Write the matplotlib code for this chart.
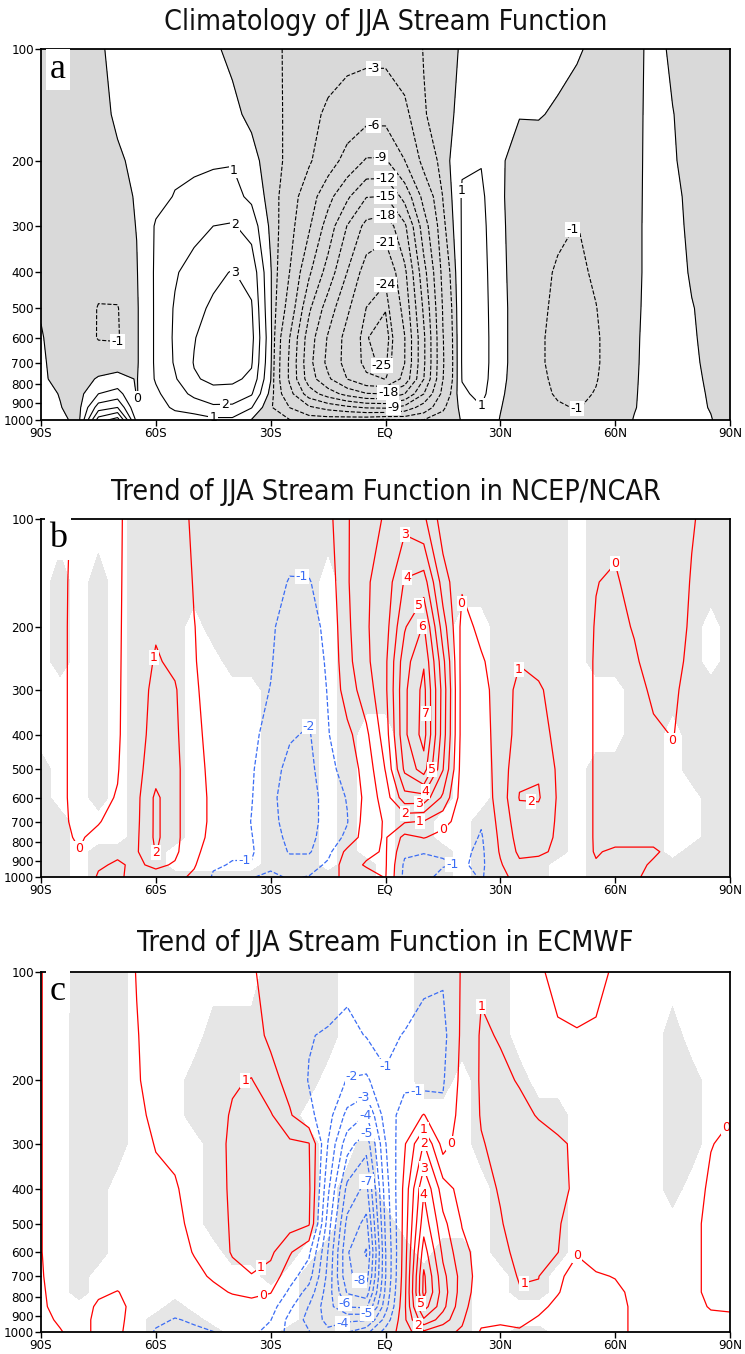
import numpy as np
import matplotlib.pyplot as plt
from matplotlib import font_manager
from matplotlib.ticker import NullLocator

lats = np.arange(-90, 91, 5)
plevs = [100, 150, 200, 250, 300, 400, 500, 600, 700, 775, 850, 925, 1000]

# JJA climatological mass stream function, one row per latitude (90S -> 90N),
# values at plevs (100 -> 1000 hPa)
psi_clim = [
    [-0.3, -0.3, -0.3, -0.3, -0.3, -0.25, -0.05, 0.05, 0.1, 0.12, 0.15, 0.2, 0.2],
    [-0.4, -0.4, -0.4, -0.4, -0.4, -0.4, -0.35, -0.3, -0.25, -0.2, -0.02, 0.02, 0.08],
    [-0.4, -0.4, -0.4, -0.4, -0.45, -0.5, -0.5, -0.55, -0.5, -0.4, -0.3, -0.2, -0.1],
    [-0.1, -0.2, -0.4, -0.45, -0.5, -0.7, -1.05, -1.05, -0.5, 0.1, 1.0, 2.5, 4.5],
    [0.2, 0.1, -0.1, -0.2, -0.3, -0.6, -1.05, -1.1, -0.4, 0.3, 1.4, 3.0, 5.5],
    [0.3, 0.2, 0.15, 0.05, 0.02, -0.05, -0.1, -0.1, -0.1, -0.05, -0.05, 0.1, 0.7],
    [0.45, 0.5, 0.55, 0.7, 1.1, 1.15, 1.15, 1.15, 1.15, 1.1, 0.8, 0.5, 0.3],
    [0.4, 0.55, 0.8, 1.05, 1.45, 1.9, 2.1, 2.15, 2.1, 1.9, 1.6, 1.2, 0.4],
    [0.35, 0.55, 0.85, 1.2, 1.7, 2.4, 2.75, 2.95, 3.05, 2.9, 2.2, 1.5, 0.5],
    [0.1, 0.55, 0.9, 1.35, 2.0, 2.8, 3.15, 3.5, 3.5, 3.2, 2.7, 1.8, 0.8],
    [-0.15, 0.2, 0.95, 1.3, 2.1, 3.05, 3.35, 3.5, 3.45, 3.2, 2.6, 1.8, 0.8],
    [-0.3, -0.2, 0.35, 0.8, 1.6, 2.7, 3.1, 3.3, 3.1, 2.8, 2.1, 1.05, -0.05],
    [-0.7, -0.5, -0.5, -0.4, -0.2, 0.1, 0.15, 0.3, 0.2, 0.05, -0.3, -0.8, -0.3],
    [-1.2, -1.3, -1.3, -1.8, -2.1, -3.05, -4.05, -6.05, -6.5, -6.5, -5.05, -3.05, -0.95],
    [-1.6, -2.3, -2.7, -4.5, -5.6, -8.5, -11.5, -13.5, -14.05, -13.5, -10.5, -5.5, -1.5],
    [-2.05, -3.4, -4.6, -8.05, -10.3, -13.3, -16.5, -18.3, -18.8, -17.5, -13.5, -7.05, -1.5],
    [-2.2, -4.4, -7.05, -11.5, -15.1, -18.05, -20.5, -22.05, -22.05, -21.05, -16.05, -8.3, -1.2],
    [-2.3, -5.05, -9.3, -14.9, -18.9, -22.5, -24.05, -24.9, -24.7, -23.5, -17.8, -9.3, -1.05],
    [-2.3, -5.05, -9.3, -15.05, -19.8, -23.6, -24.9, -25.8, -25.3, -24.05, -18.05, -9.5, -0.5],
    [-1.8, -3.6, -6.05, -11.05, -15.6, -18.7, -20.05, -21.1, -21.05, -20.05, -15.05, -8.05, -0.95],
    [-0.95, -1.1, -2.2, -5.05, -7.4, -10.05, -11.5, -12.5, -12.5, -12.05, -9.05, -4.5, -0.95],
    [-0.4, -0.4, -0.5, -0.95, -1.3, -2.2, -2.8, -3.1, -3.2, -3.05, -2.2, -1.2, -0.5],
    [0.1, 0.3, 0.9, 1.1, 1.1, 1.1, 1.1, 1.1, 1.1, 1.05, 0.8, 0.3, 0.05],
    [0.3, 0.6, 0.95, 1.2, 1.3, 1.4, 1.45, 1.5, 1.5, 1.45, 1.3, 0.95, 0.3],
    [0.2, 0.15, 0.1, 0.1, 0.15, 0.2, 0.25, 0.25, 0.25, 0.2, 0.1, 0.02, -0.02],
    [0.3, 0.03, -0.3, -0.35, -0.4, -0.4, -0.4, -0.4, -0.4, -0.4, -0.35, -0.25, -0.1],
    [0.25, 0.05, -0.4, -0.5, -0.6, -0.75, -0.85, -0.9, -0.9, -0.85, -0.75, -0.6, -0.2],
    [0.2, -0.1, -0.45, -0.6, -0.85, -1.1, -1.15, -1.2, -1.2, -1.15, -1.1, -0.9, -0.3],
    [0.05, -0.2, -0.5, -0.7, -1.02, -1.15, -1.25, -1.3, -1.3, -1.25, -1.2, -1.05, -0.3],
    [-0.1, -0.3, -0.45, -0.6, -0.75, -0.9, -1.02, -1.1, -1.1, -1.05, -0.95, -0.8, -0.3],
    [-0.2, -0.3, -0.4, -0.45, -0.5, -0.55, -0.6, -0.6, -0.6, -0.55, -0.5, -0.4, -0.2],
    [-0.1, -0.1, -0.1, -0.1, -0.1, -0.1, -0.08, -0.06, -0.05, -0.04, -0.03, -0.02, 0.02],
    [0.1, 0.12, 0.13, 0.14, 0.15, 0.15, 0.15, 0.15, 0.15, 0.15, 0.15, 0.15, 0.15],
    [-0.05, 0.01, 0.03, 0.05, 0.06, 0.08, 0.1, 0.1, 0.1, 0.1, 0.1, 0.1, 0.1],
    [-0.15, -0.12, -0.1, -0.05, -0.04, -0.02, 0.01, 0.02, 0.03, 0.04, 0.05, 0.05, 0.05],
    [-0.15, -0.15, -0.15, -0.12, -0.1, -0.08, -0.06, -0.05, -0.04, -0.03, -0.02, -0.01, 0.01],
    [-0.1, -0.1, -0.1, -0.1, -0.1, -0.1, -0.1, -0.1, -0.1, -0.1, -0.1, -0.1, -0.1],
]

# JJA stream function trend, NCEP/NCAR
trend_ncep = [
    [0.2, 0.2, 0.2, 0.2, 0.2, 0.2, 0.2, 0.2, 0.2, 0.2, 0.2, 0.2, 0.2],
    [0.1, 0.1, 0.12, 0.12, 0.12, 0.12, 0.12, 0.12, 0.12, 0.15, 0.2, 0.3, 0.4],
    [-0.1, -0.15, -0.2, -0.2, -0.2, -0.2, -0.2, -0.2, -0.15, -0.08, 0.02, 0.2, 0.3],
    [-0.2, -0.25, -0.3, -0.3, -0.3, -0.3, -0.25, -0.2, -0.05, 0.2, 0.5, 0.9, 1.1],
    [-0.1, -0.1, -0.1, -0.1, -0.1, -0.1, -0.05, 0.05, 0.3, 0.6, 0.85, 1.1, 1.2],
    [0.3, 0.35, 0.4, 0.45, 0.5, 0.6, 0.7, 0.75, 0.8, 0.85, 0.9, 0.85, 0.6],
    [0.6, 0.7, 0.9, 1.1, 1.3, 1.4, 1.6, 2.2, 2.2, 2.2, 2.05, 1.2, 0.6],
    [0.4, 0.5, 0.6, 0.8, 1.1, 1.2, 1.3, 1.3, 1.3, 1.3, 1.2, 0.9, 0.3],
    [-0.15, -0.05, 0.02, 0.05, 0.1, 0.15, 0.2, 0.2, 0.2, 0.2, 0.2, 0.1, -0.2],
    [-0.3, -0.3, -0.35, -0.35, -0.3, -0.2, -0.15, -0.1, -0.1, -0.15, -0.4, -0.9, -1.1],
    [-0.3, -0.35, -0.4, -0.4, -0.4, -0.35, -0.3, -0.3, -0.4, -0.6, -0.9, -1.05, -1.2],
    [-0.4, -0.5, -0.6, -0.7, -0.75, -0.8, -0.9, -0.95, -1.03, -0.97, -0.95, -1.03, -1.05],
    [-0.4, -0.7, -0.9, -0.95, -1.02, -1.3, -1.6, -1.8, -1.7, -1.5, -1.3, -1.2, -0.8],
    [-0.6, -1.05, -1.3, -1.4, -1.5, -1.9, -2.3, -2.4, -2.4, -2.3, -2.1, -1.5, -1.1],
    [-0.5, -1.05, -1.3, -1.4, -1.6, -2.1, -2.3, -2.5, -2.4, -2.3, -2.1, -1.5, -0.95],
    [-0.3, -0.6, -0.8, -0.9, -0.95, -1.05, -1.3, -1.5, -1.6, -1.5, -1.3, -0.8, -0.4],
    [0.9, 0.9, 0.8, 0.7, 0.5, -0.3, -0.6, -0.95, -1.05, -0.8, 0.3, 0.6, 0.3],
    [1.8, 1.9, 1.9, 1.8, 1.5, 0.8, 0.4, 0.3, 0.5, 0.6, 0.8, 1.1, 0.6],
    [2.05, 2.4, 2.6, 2.8, 2.8, 2.5, 2.05, 1.5, 1.1, 1.1, 1.1, 1.1, 1.05],
    [2.7, 4.1, 4.9, 5.6, 5.8, 5.8, 5.2, 3.6, 1.1, -0.3, -0.8, -1.2, -1.3],
    [2.2, 4.5, 6.1, 6.9, 7.3, 7.4, 6.5, 3.6, 0.95, 0.05, -0.9, -1.6, -1.4],
    [0.5, 1.5, 2.5, 3.3, 3.6, 3.5, 3.05, 1.8, 0.3, -0.3, -0.9, -1.1, -0.6],
    [0.4, 0.1, -0.3, -0.4, -0.4, -0.4, -0.5, -0.5, -0.4, -0.5, -0.8, -0.9, -0.6],
    [0.5, 0.4, 0.2, -0.1, -0.3, -0.4, -0.5, -0.6, -0.9, -1.1, -1.2, -1.2, -1.1],
    [0.5, 0.5, 0.5, 0.4, 0.4, 0.4, 0.4, 0.4, 0.3, 0.2, 0.1, -0.1, -0.3],
    [0.4, 0.5, 0.7, 0.95, 1.3, 1.4, 1.8, 2.05, 1.6, 1.4, 1.2, 0.8, 0.4],
    [0.4, 0.5, 0.6, 0.8, 1.1, 1.3, 1.9, 2.1, 1.5, 1.3, 1.1, 0.8, 0.4],
    [0.3, 0.4, 0.5, 0.6, 0.7, 0.8, 0.85, 0.9, 0.9, 0.9, 0.9, 0.7, 0.3],
    [0.2, 0.3, 0.4, 0.5, 0.5, 0.5, 0.5, 0.5, 0.5, 0.5, 0.3, 0.2, 0.1],
    [0.1, 0.02, -0.05, -0.1, -0.1, -0.1, -0.1, -0.1, -0.1, -0.1, -0.05, 0.05, 0.1],
    [0.2, -0.1, -0.2, -0.25, -0.3, -0.3, -0.3, -0.3, -0.3, -0.2, 0.1, 0.2, 0.1],
    [0.4, 0.3, 0.05, -0.1, -0.2, -0.3, -0.3, -0.3, -0.2, -0.1, 0.05, 0.1, 0.05],
    [0.5, 0.5, 0.4, 0.3, 0.1, -0.1, -0.2, -0.2, -0.2, -0.1, 0.05, -0.05, -0.1],
    [0.4, 0.4, 0.3, 0.2, 0.1, 0.02, -0.1, -0.2, -0.2, -0.15, -0.1, -0.1, -0.1],
    [0.05, -0.05, -0.1, -0.15, -0.2, -0.2, -0.2, -0.2, -0.2, -0.15, -0.1, -0.1, -0.1],
    [-0.2, -0.2, -0.2, -0.2, -0.2, -0.2, -0.2, -0.2, -0.2, -0.2, -0.2, -0.2, -0.2],
    [-0.2, -0.2, -0.2, -0.2, -0.2, -0.2, -0.2, -0.2, -0.2, -0.2, -0.2, -0.2, -0.2],
]

# JJA stream function trend, ECMWF
trend_ecmwf = [
    [0.02, 0.02, 0.02, 0.02, 0.02, 0.02, 0.02, 0.02, 0.05, 0.08, 0.1, 0.2, 0.3],
    [-0.3, -0.3, -0.3, -0.3, -0.3, -0.3, -0.3, -0.3, -0.3, -0.25, -0.2, -0.1, 0.05],
    [-0.4, -0.4, -0.4, -0.4, -0.4, -0.45, -0.45, -0.4, -0.35, -0.3, -0.3, -0.3, -0.3],
    [-0.4, -0.4, -0.4, -0.4, -0.4, -0.45, -0.5, -0.4, -0.3, -0.1, 0.1, 0.2, 0.2],
    [-0.3, -0.3, -0.3, -0.3, -0.3, -0.35, -0.35, -0.3, -0.2, 0.02, 0.2, 0.2, 0.15],
    [0.02, -0.03, -0.05, -0.1, -0.15, -0.2, -0.25, -0.25, -0.2, -0.2, -0.25, -0.35, -0.4],
    [0.3, 0.25, 0.2, 0.1, 0.02, -0.1, -0.15, -0.2, -0.2, -0.3, -0.5, -0.8, -1.1],
    [0.4, 0.4, 0.35, 0.25, 0.1, -0.05, -0.1, -0.15, -0.2, -0.35, -0.7, -1.05, -1.3],
    [0.5, 0.5, 0.5, 0.45, 0.4, 0.2, 0.1, 0.02, -0.1, -0.3, -0.6, -0.9, -1.15],
    [0.5, 0.6, 0.6, 0.6, 0.6, 0.5, 0.4, 0.3, 0.05, -0.1, -0.3, -0.6, -1.02],
    [0.5, 0.6, 0.9, 1.1, 1.2, 1.2, 1.15, 1.1, 0.6, 0.03, -0.2, -0.5, -0.7],
    [0.1, 0.3, 1.05, 1.4, 1.6, 1.6, 1.5, 1.4, 0.95, 0.2, -0.3, -0.6, -0.8],
    [-0.3, -0.15, 0.3, 1.1, 1.4, 1.5, 1.5, 1.2, 0.6, 0.05, -0.6, -0.97, -1.3],
    [-0.5, -0.6, -0.3, 0.1, 1.2, 1.5, 1.4, 0.1, -0.6, -1.2, -1.8, -2.3, -2.3],
    [-0.5, -0.95, -1.05, -0.75, 1.05, 1.2, 1.1, -0.8, -1.6, -2.4, -3.05, -3.3, -2.95],
    [-0.5, -1.1, -1.4, -1.6, -2.05, -2.8, -3.5, -4.05, -4.3, -4.5, -4.6, -4.3, -3.8],
    [-0.7, -1.3, -2.05, -3.3, -4.6, -6.3, -7.3, -7.9, -7.8, -7.1, -6.05, -4.2, -3.05],
    [-0.8, -0.95, -2.2, -4.05, -5.6, -7.3, -8.3, -9.1, -8.5, -7.6, -6.2, -4.1, -2.3],
    [-0.6, -0.8, -1.1, -1.5, -2.05, -2.5, -2.8, -3.05, -3.05, -2.8, -2.4, -1.6, -0.6],
    [-0.5, -1.05, -1.2, -0.6, -0.1, 0.3, 0.4, 0.5, 0.6, 0.7, 0.8, 0.8, 0.5],
    [-0.7, -1.5, -1.4, 0.05, 2.05, 3.9, 4.6, 5.5, 6.2, 6.3, 5.5, 3.8, 1.8],
    [-0.9, -1.3, -1.1, -0.8, -0.4, 1.5, 2.3, 2.8, 3.3, 3.5, 3.3, 2.5, 1.2],
    [0.1, 0.2, 0.3, 0.4, 0.5, 0.6, 0.95, 1.3, 1.6, 1.5, 1.3, 1.1, 0.9],
    [0.9, 1.1, 1.1, 1.05, 0.95, 0.8, 0.7, 0.6, 0.5, 0.45, 0.35, 0.2, -0.1],
    [0.7, 0.95, 1.15, 1.2, 1.2, 1.05, 0.95, 0.85, 0.7, 0.6, 0.4, 0.1, -0.15],
    [0.4, 0.7, 0.95, 1.2, 1.3, 1.35, 1.3, 1.15, 1.05, 0.95, 0.5, 0.2, -0.1],
    [0.1, 0.5, 0.8, 0.95, 1.3, 1.35, 1.3, 1.2, 1.02, 0.9, 0.2, -0.1, -0.3],
    [-0.2, 0.1, 0.5, 0.8, 1.1, 1.15, 1.1, 1.03, 0.15, 0.05, -0.2, -0.4, -0.5],
    [-0.3, 0.05, 0.3, 0.6, 0.9, 0.9, 0.5, 0.05, -0.3, -0.4, -0.5, -0.5, -0.5],
    [-0.2, 0.1, 0.3, 0.4, 0.5, 0.5, 0.4, 0.2, -0.05, -0.2, -0.3, -0.3, -0.3],
    [0.1, 0.2, 0.3, 0.4, 0.4, 0.4, 0.35, 0.2, 0.02, -0.1, -0.2, -0.2, -0.2],
    [0.3, 0.3, 0.3, 0.3, 0.3, 0.3, 0.25, 0.2, 0.15, 0.1, 0.1, 0.1, 0.1],
    [0.3, 0.3, 0.3, 0.3, 0.3, 0.3, 0.3, 0.3, 0.3, 0.3, 0.3, 0.3, 0.3],
    [0.3, 0.3, 0.3, 0.3, 0.3, 0.3, 0.3, 0.3, 0.3, 0.3, 0.3, 0.3, 0.3],
    [0.3, 0.3, 0.3, 0.3, 0.3, 0.25, 0.2, 0.2, 0.2, 0.2, 0.2, 0.25, 0.3],
    [0.3, 0.3, 0.25, 0.2, 0.02, -0.1, -0.2, -0.2, -0.2, -0.2, -0.05, 0.15, 0.2],
    [0.3, 0.2, 0.1, 0.03, -0.1, -0.3, -0.3, -0.3, -0.3, -0.3, -0.1, 0.15, 0.2],
]

# 95% significant areas ('#'), one string per latitude, characters follow plevs
sig_ncep = [
    "......#######", ".###....#####", ".............", ".#######..###",
    "..........###", "#############", "#############", "##########..#",
    "##..........#", "###.........#", "####........#", "####........#",
    "#############", "#############", "#############", "#...........#",
    "#############", "#####......##", "#####........", "#############",
    "#############", "########..###", "##...........", "##......#####",
    "#############", "#############", "#############", "###########..",
    ".............", "####..#######", "####..#######", "#############",
    "#############", "#####......##", "#######...###", "##..#########",
    "#############",
]
sig_ecmwf = [
    ".............", ".............", "##########...", "########.....",
    "#####........", ".............", "...........##", "..........###",
    "..##.......##", ".######.....#", ".#######.....", ".#######.....",
    "#########....", "########....#", "###.###.#####", "##.....######",
    ".....########", "....#########", "......#######", ".......######",
    "###.....#####", "###....######", "##.....######", "#####........",
    "########.....", "..########..#", "...#######..#", "...#####.....",
    ".............", ".............", ".............", ".............",
    ".............", ".#####.......", "..###........", ".............",
    ".............",
]

clim_levels = [-25, -24, -21, -18, -15, -12, -9, -6, -3, -1, 0, 1, 2, 3, 4, 5]
ncep_levels = [-2, -1, 0, 1, 2, 3, 4, 5, 6, 7]
ecmwf_levels = [-9, -8, -7, -6, -5, -4, -3, -2, -1, 0, 1, 2, 3, 4, 5, 6]

titles = ["Climatology of JJA Stream Function",
          "Trend of JJA Stream Function in NCEP/NCAR",
          "Trend of JJA Stream Function in ECMWF"]
panel_letters = ["a", "b", "c"]
ytick_vals = [100, 200, 300, 400, 500, 600, 700, 800, 900, 1000]
xtick_vals = [-90, -60, -30, 0, 30, 60, 90]
xtick_labels = ["90S", "60S", "30S", "EQ", "30N", "60N", "90N"]

# where the contour labels sit: level -> [(lat, hPa), ...]
label_spots = [
    {-3: [(-3, 120)], -6: [(-3, 165)], -9: [(-1, 195), (2, 935)], -12: [(0, 222)],
     -15: [(0, 248)], -18: [(0, 276), (1, 850)], -21: [(0, 318)],
     -24: [(0, 425)], -25: [(-1, 715)],
     -1: [(-70, 640), (47, 300), (50, 930)],
     0: [(-65, 900)], 1: [(-40, 212), (-45, 972), (21, 240), (25, 910)],
     2: [(-37, 280), (-42, 905)], 3: [(-37, 385)]},
    {-2: [(-22, 356)], -1: [(-22, 145), (-37, 894), (18, 934)],
     0: [(18, 170), (17, 782), (-80, 850), (57, 104), (72, 431)],
     1: [(-60, 246), (35, 263), (9, 705)], 2: [(-60, 858), (38, 640), (5, 665)],
     3: [(8.5, 625), (5, 108)], 4: [(5, 138), (13, 590)], 5: [(7, 168), (12, 500)],
     6: [(7, 195)], 7: [(10, 348)]},
    {-1: [(0, 188), (8, 209)], -2: [(-9, 187)], -3: [(-6, 217)], -4: [(-6, 245), (-11, 940)],
     -5: [(-6, 272), (-5, 880)], -6: [(-11, 835)], -7: [(-6, 355)], -8: [(-7, 730)],
     0: [(-32, 794), (18, 306), (50, 604), (88, 269)],
     1: [(-37, 200), (-32, 680), (10, 274), (25, 107), (37, 787)],
     2: [(10, 296), (8, 976)], 3: [(10, 347)], 4: [(10, 407)], 5: [(8, 832)]},
]

names = {f.name for f in font_manager.fontManager.ttflist}
serif = "Liberation Serif" if "Liberation Serif" in names else "DejaVu Serif"
sans = "DejaVu Sans"

W, H = 745, 1354
fig = plt.figure(figsize=(W / 100, H / 100), dpi=100)
fig.patch.set_facecolor("white")

# axes boxes in pixels: left, top, right, bottom
boxes = [(41, 49, 730, 420), (41, 519, 730, 877), (41, 972, 730, 1332)]
title_y = [22, 492, 943]


def make_axes(box):
    l, t, r, b = box
    ax = fig.add_axes([l / W, 1 - b / H, (r - l) / W, (b - t) / H])
    ax.set_yscale("log")
    ax.set_xlim(-90, 90)
    ax.set_ylim(1000, 100)
    ax.set_yticks(ytick_vals)
    ax.set_yticklabels([str(v) for v in ytick_vals], family=sans, fontsize=9.5,
                       fontstretch="condensed")
    ax.yaxis.set_minor_locator(NullLocator())
    ax.set_xticks(xtick_vals)
    ax.set_xticklabels(xtick_labels, family=sans, fontsize=9.5, fontstretch="condensed")
    ax.tick_params(direction="out", length=4, width=1, pad=1)
    for s in ax.spines.values():
        s.set_linewidth(1.3)
        s.set_zorder(5)
    return ax


def put_labels(ax, cs, spots, color):
    # horizontal labels on a white box, at the contour point nearest each spot
    to_disp = ax.transData
    for lv, path in zip(cs.levels, cs.get_paths()):
        pts = spots.get(int(round(lv)), [])
        if not pts or len(path.vertices) == 0:
            continue
        verts = path.interpolated(8).vertices
        disp = to_disp.transform(verts)
        for x, y in pts:
            px, py = to_disp.transform((x, y))
            k = np.argmin((disp[:, 0] - px) ** 2 + (disp[:, 1] - py) ** 2)
            ax.text(verts[k, 0], verts[k, 1], "%d" % round(lv), color=color,
                    family=sans, fontsize=9, ha="center", va="center", zorder=4,
                    bbox=dict(boxstyle="square,pad=0.08", fc="white", ec="none"))


axes = [make_axes(b) for b in boxes]

# (a) climatology: negative areas shaded grey, black contours
ax = axes[0]
z = np.array(psi_clim).T
ax.contourf(lats, plevs, z, levels=[-100, 0], colors=["#d9d9d9"])
cs = ax.contour(lats, plevs, z, levels=clim_levels, colors="k", linewidths=0.8,
                linestyles=["dashed" if v < 0 else "solid" for v in clim_levels])
put_labels(ax, cs, label_spots[0], "k")

# (b), (c) trends: significance shading, red positive / blue negative
for ax, field, sig, lv, spots in [(axes[1], trend_ncep, sig_ncep, ncep_levels, label_spots[1]),
                                  (axes[2], trend_ecmwf, sig_ecmwf, ecmwf_levels, label_spots[2])]:
    mask = np.array([[1.0 if c == "#" else 0.0 for c in col] for col in sig]).T
    ax.contourf(lats, plevs, mask, levels=[0.5, 1.5], colors=["#e6e6e6"])
    z = np.array(field).T
    neg = [v for v in lv if v < 0]
    pos = [v for v in lv if v >= 0]
    cn = ax.contour(lats, plevs, z, levels=neg, colors="#3a6cf4", linewidths=0.9,
                    linestyles="dashed")
    cp = ax.contour(lats, plevs, z, levels=pos, colors="#ff0000", linewidths=0.9,
                    linestyles="solid")
    put_labels(ax, cn, spots, "#3a6cf4")
    put_labels(ax, cp, spots, "#ff0000")

for ax, title, letter, ty in zip(axes, titles, panel_letters, title_y):
    fig.text(0.5 * (41 + 730) / W, 1 - ty / H, title, ha="center", va="center",
             family=sans, fontsize=20.5, fontstretch="condensed", color="#111111")
    ax.text(0.0245, 0.945, letter, transform=ax.transAxes, ha="center", va="center",
            family=serif, fontsize=26, zorder=6,
            bbox=dict(boxstyle="square,pad=0.12", fc="white", ec="none"))

fig.savefig("out.png", dpi=100)
